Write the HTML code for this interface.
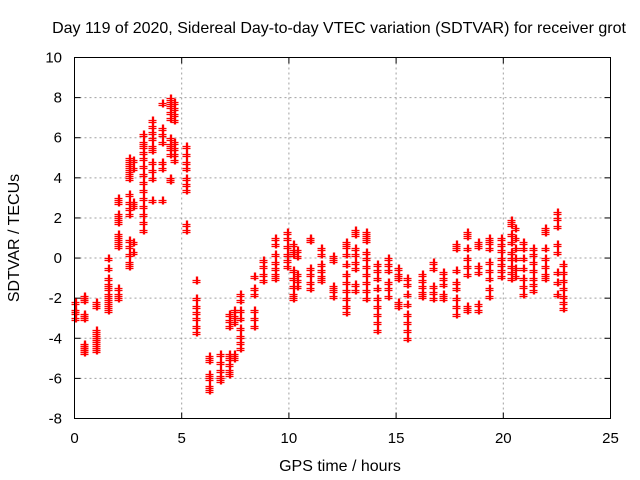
<!DOCTYPE html>
<html><head><meta charset="utf-8"><style>
html,body{margin:0;padding:0;background:#fff}
svg{display:block;font-family:"Liberation Sans",sans-serif}
</style></head><body>
<svg id="chart" width="640" height="480" viewBox="0 0 640 480">
<rect width="640" height="480" fill="#fff"/>
<text x="339" y="33" font-size="16" text-anchor="middle">Day 119 of 2020, Sidereal Day-to-day VTEC variation (SDTVAR) for receiver grot</text>
<text transform="translate(19,238) rotate(-90)" font-size="16" text-anchor="middle">SDTVAR / TECUs</text>
<text x="340" y="471" font-size="16" text-anchor="middle">GPS time / hours</text>
<g id="grid"></g>
<g id="axes"></g>
<g id="marks"></g>
<rect x="74.5" y="57.5" width="536" height="361" fill="none" stroke="#000" stroke-width="1"/>
</svg>
<script>
const xTicks = [0,5,10,15,20,25];
const yTicks = [-8,-6,-4,-2,0,2,4,6,8,10];
const stripHours = [0.0,0.45,1.0,1.55,2.05,2.55,2.75,3.2,3.6,4.1,4.45,4.65,5.2,5.65,6.25,6.8,7.2,7.45,7.7,8.35,8.8,9.37,9.9,10.2,10.4,11.0,11.5,12.05,12.65,13.1,13.6,14.1,14.6,15.1,15.5,16.2,16.7,17.2,17.8,18.3,18.8,19.35,19.9,20.35,20.55,20.9,21.4,21.95,22.5,22.8];
const stripValues = [
[-2.2,-2.6,-2.7,-3.0],
[-1.9,-2.0,-2.1,-2.8,-2.9,-3.0,-4.3,-4.4,-4.5,-4.6,-4.7],
[-2.2,-2.4,-3.6,-3.8,-4.0,-4.1,-4.3,-4.5,-4.6],
[0.0,-0.5,-1.0,-1.3,-1.5,-1.8,-2.0,-2.2,-2.4,-2.6],
[3.0,2.8,2.2,2.0,1.8,1.2,1.0,0.8,0.6,-1.5,-1.8,-2.0],
[5.0,4.8,4.6,4.4,4.2,4.0,3.2,2.8,2.5,2.2,0.9,0.6,0.2,-0.2,-0.4],
[4.9,4.5,2.8,2.6,0.8,0.3],
[6.2,5.8,5.6,5.3,5.0,4.6,4.2,3.8,3.4,3.0,2.6,2.2,1.8,1.4],
[6.9,6.6,6.3,6.0,5.6,5.4,4.8,4.4,4.0,2.9],
[7.75,6.5,6.2,5.8,4.8,4.5,2.9],
[8.0,7.8,7.6,7.3,7.0,6.0,5.7,5.5,5.2,4.0,3.9],
[7.8,7.5,7.2,6.9,5.8,5.5,5.2,4.9],
[5.6,5.2,4.8,4.5,4.0,3.7,3.4,1.7,1.4],
[-1.1,-2.0,-2.4,-2.7,-3.0,-3.4,-3.7],
[-4.9,-5.1,-5.8,-6.0,-6.4,-6.6],
[-4.8,-5.2,-5.6,-5.9,-6.1],
[-2.8,-3.1,-3.4,-4.8,-5.0,-5.3,-5.6,-5.8],
[-2.6,-2.9,-3.2,-4.8,-5.0],
[-1.8,-2.1,-2.6,-3.0,-3.5,-3.9,-4.2,-4.5],
[-0.9,-1.5,-1.8,-2.6,-3.0,-3.4],
[-0.1,-0.4,-0.8,-1.1],
[1.0,0.7,0.2,-0.2,-0.5,-0.8,-1.0],
[1.3,1.0,0.6,0.2,-0.1,-0.4],
[0.7,0.4,0.2,-0.6,-1.0,-1.4,-1.8,-2.0],
[0.4,0.1,-0.8,-1.1,-1.4],
[1.0,0.9,-0.5,-0.8,-1.2,-1.5],
[0.5,0.2,-0.3,-0.6,-0.9,-1.1],
[0.1,-0.1,-1.4,-1.6,-1.9],
[0.8,0.6,0.2,-0.3,-0.8,-1.2,-1.6,-2.0,-2.4,-2.7],
[1.4,1.2,0.5,0.2,-0.2,-0.5,-1.3,-1.6],
[1.3,1.1,0.9,0.3,0.0,-0.4,-0.8,-1.2,-1.6,-2.0],
[-0.3,-0.6,-1.0,-1.5,-2.0,-2.4,-2.8,-3.2,-3.6],
[0.0,-0.3,-0.6,-1.2,-1.5,-1.9],
[-0.5,-0.8,-1.0,-2.2,-2.4],
[-1.0,-1.3,-1.8,-2.3,-2.8,-3.2,-3.6,-4.0],
[-0.8,-1.1,-1.4,-1.7,-1.9],
[-0.2,-0.5,-1.4,-1.7,-2.0],
[-0.7,-1.0,-1.3,-1.8,-2.0],
[0.7,0.5,-0.6,-1.2,-1.5,-2.0,-2.4,-2.8],
[1.3,1.1,0.5,0.0,-0.4,-0.8,-2.4,-2.6],
[0.8,0.6,-0.4,-0.7,-2.3,-2.6],
[1.0,0.8,0.5,-0.2,-0.6,-1.0,-1.5,-1.9],
[1.0,0.7,0.4,0.0,-0.3,-0.6,-0.9],
[1.9,1.7,1.2,0.8,0.3,0.0,-0.4,-0.7,-1.0],
[1.5,1.0,0.5,0.0,-0.5,-0.9],
[0.8,0.5,0.0,-0.5,-1.0,-1.4,-1.8],
[0.5,0.2,-0.2,-0.6,-1.0,-1.3,-1.6],
[1.5,1.3,0.5,0.0,-0.4,-0.8,-1.0],
[2.3,2.0,1.6,0.7,0.3,-0.7,-1.2,-1.8],
[-0.3,-0.7,-1.1,-1.5,-1.9,-2.2,-2.5]
];
const NS='http://www.w3.org/2000/svg';
const X0=74.5,X1=610.5,Y0=418.5,Y1=57.5;
const xS=v=>X0+(v-0)/(25-0)*(X1-X0);
const yS=v=>Y0-(v-(-8))/(10-(-8))*(Y0-Y1);
function mk(tag,attrs,parent){const e=document.createElementNS(NS,tag);for(const k in attrs)e.setAttribute(k,attrs[k]);parent.appendChild(e);return e;}
const grid=document.getElementById('grid'),axes=document.getElementById('axes'),marks=document.getElementById('marks');
xTicks.forEach(t=>{const x=xS(t);
 if(t>0&&t<25){const g=mk('line',{x1:x,x2:x,y1:Y1,y2:Y0,stroke:'#a0a0a0','stroke-dasharray':'2,3'},grid);
 
 }
 mk('line',{x1:x,x2:x,y1:Y0,y2:Y0-6,stroke:'#000'},axes);
 mk('line',{x1:x,x2:x,y1:Y1,y2:Y1+6,stroke:'#000'},axes);
 const tx=mk('text',{x:x,y:443,'font-size':'15','text-anchor':'middle'},axes);tx.textContent=t;
 
 
});
yTicks.forEach(t=>{const y=yS(t);
 if(t>-8&&t<10){const g=mk('line',{x1:X0,x2:X1,y1:y,y2:y,stroke:'#a0a0a0','stroke-dasharray':'2,3'},grid);
 
 }
 mk('line',{x1:X0,x2:X0+6,y1:y,y2:y,stroke:'#000'},axes);
 mk('line',{x1:X1,x2:X1-6,y1:y,y2:y,stroke:'#000'},axes);
 const tx=mk('text',{x:62,y:y+5,'font-size':'15','text-anchor':'end'},axes);tx.textContent=t;
 
 
});
stripHours.forEach((h,i)=>{stripValues[i].forEach(v=>{
 const cx=Math.round(xS(h))+0.5,cy=Math.round(yS(v))+0.5;
 const p=mk('path',{d:`M${cx-4},${cy}H${cx+4}M${cx},${cy-4}V${cy+4}M${cx-4},${cy+2}H${cx+4}M${cx+1},${cy-4}V${cy+4}`,stroke:'#ff0000','stroke-width':'1.3',fill:'none'},marks);
 
 
});});
</script>
</body></html>
